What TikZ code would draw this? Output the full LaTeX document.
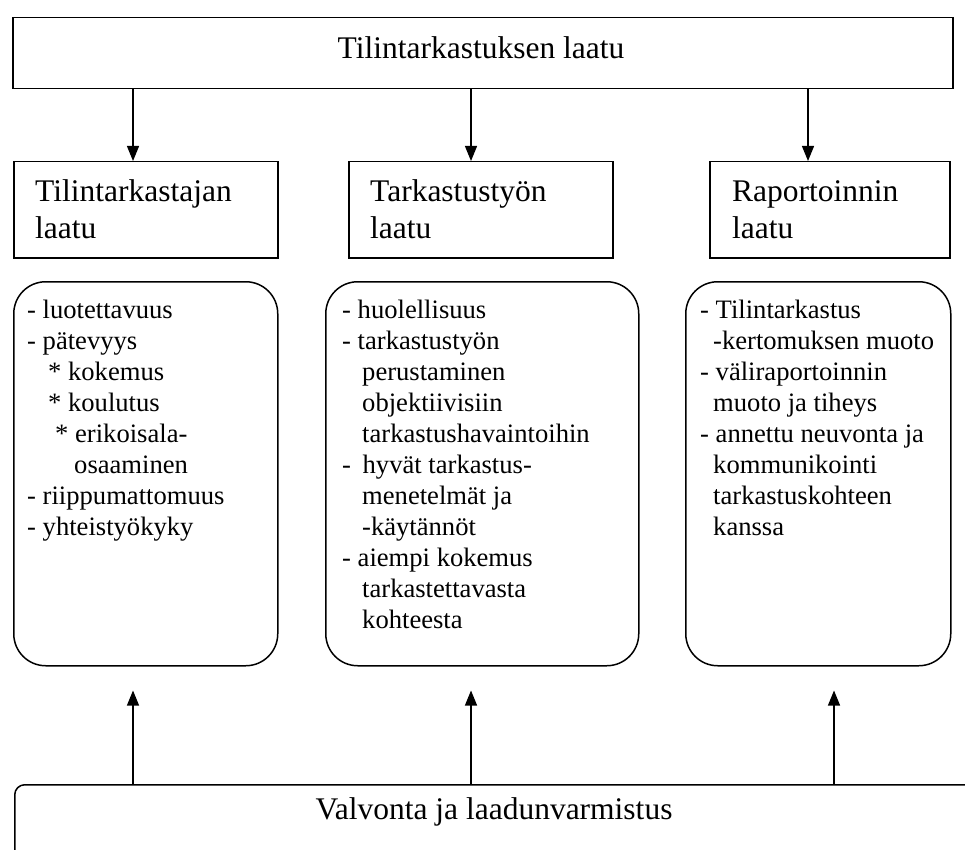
\documentclass[tikz,border=0pt]{standalone}
\usepackage{fontspec}
\setmainfont{Liberation Serif}
\usetikzlibrary{arrows.meta,calc}
\newcommand\myTitleFont{\fontsize{31.5}{36}\selectfont}
\newcommand\myListFont{\fontsize{26.6}{31}\selectfont}
\begin{document}
\begin{tikzpicture}[x=1pt,y=-1pt,
  box/.style={draw, line width=1.5pt, inner sep=0pt, anchor=north west},
  sqbox/.style={box, minimum width=264pt, minimum height=96pt},
  rbox/.style={box, rounded corners=32pt, minimum height=384pt},
  txt/.style={anchor=base west, inner sep=0pt},
  arr/.style={line width=1.2pt, -{Triangle[length=15pt,width=12pt]}}]
\useasboundingbox (0,0) rectangle (965,850);
\clip (0,0) rectangle (965,850);

% top box
\node[box, minimum width=940pt, minimum height=71pt] (top) at (12,17) {};
\node[anchor=base, inner sep=0pt, font=\myTitleFont] (toptxt) at (481,59) {Tilintarkastuksen laatu};

% second row boxes
\node[sqbox] (q1) at (13,161) {};
\node[sqbox] (q2) at (348,161) {};
\node[sqbox, minimum width=240pt] (q3) at (709,161) {};
\node[txt] (q1t) at (35,202) {\parbox[t]{240pt}{\myTitleFont\raggedright Tilintarkastajan\\laatu}};
\node[txt] (q2t) at (370,202) {\parbox[t]{240pt}{\myTitleFont\raggedright Tarkastustyön\\laatu}};
\node[txt] (q3t) at (732,202) {\parbox[t]{215pt}{\myTitleFont\raggedright Raportoinnin\\laatu}};

% rounded list boxes
\node[rbox, minimum width=264pt] (r1) at (13,281) {};
\node[rbox, minimum width=313pt] (r2) at (325,281) {};
\node[rbox, minimum width=265pt] (r3) at (685,281) {};

\node[txt] (r1t) at (27,318) {\parbox[t]{245pt}{\myListFont\raggedright
- luotettavuus\\
- pätevyys\\
\hspace*{21pt}* kokemus\\
\hspace*{21pt}* koulutus\\
\hspace*{28pt}* erikoisala-\\
\hspace*{47pt}osaaminen\\
- riippumattomuus\\
- yhteistyökyky}};

\node[txt] (r2t) at (342,318) {\parbox[t]{290pt}{\myListFont\raggedright
- huolellisuus\\
- tarkastustyön\\
\hspace*{20pt}perustaminen\\
\hspace*{20pt}objektiivisiin\\
\hspace*{20pt}tarkastushavaintoihin\\
- \hspace{5pt}hyvät tarkastus-\\
\hspace*{20pt}menetelmät ja\\
\hspace*{20pt}-käytännöt\\
- aiempi kokemus\\
\hspace*{20pt}tarkastettavasta\\
\hspace*{20pt}kohteesta}};

\node[txt] (r3t) at (700,318) {\parbox[t]{250pt}{\myListFont\raggedright
- Tilintarkastus\\
\hspace*{13pt}-kertomuksen muoto\\
- väliraportoinnin\\
\hspace*{13pt}muoto ja tiheys\\
- annettu neuvonta ja\\
\hspace*{13pt}kommunikointi\\
\hspace*{13pt}tarkastuskohteen\\
\hspace*{13pt}kanssa}};

% bottom box
\node[box, rounded corners=10pt, minimum width=1000pt, minimum height=120pt] (ctrl) at (14,784) {};
\node[anchor=base, inner sep=0pt, font=\myTitleFont] (ctrltxt) at (494,819) {Valvonta ja laadunvarmistus};

% arrow positions
\coordinate (a1) at (133,0);
\coordinate (a2) at (471,0);
\coordinate (a3) at (808,0);
\coordinate (b3) at (834,0);

\draw[arr] (top.south -| a1) -- (q1.north -| a1);
\draw[arr] (top.south -| a2) -- (q2.north -| a2);
\draw[arr] (top.south -| a3) -- (q3.north -| a3);

\draw[arr] (ctrl.north -| a1) -- ([yshift=-24pt]r1.south -| a1);
\draw[arr] (ctrl.north -| a2) -- ([yshift=-24pt]r2.south -| a2);
\draw[arr] (ctrl.north -| b3) -- ([yshift=-24pt]r3.south -| b3);
\end{tikzpicture}
\end{document}
